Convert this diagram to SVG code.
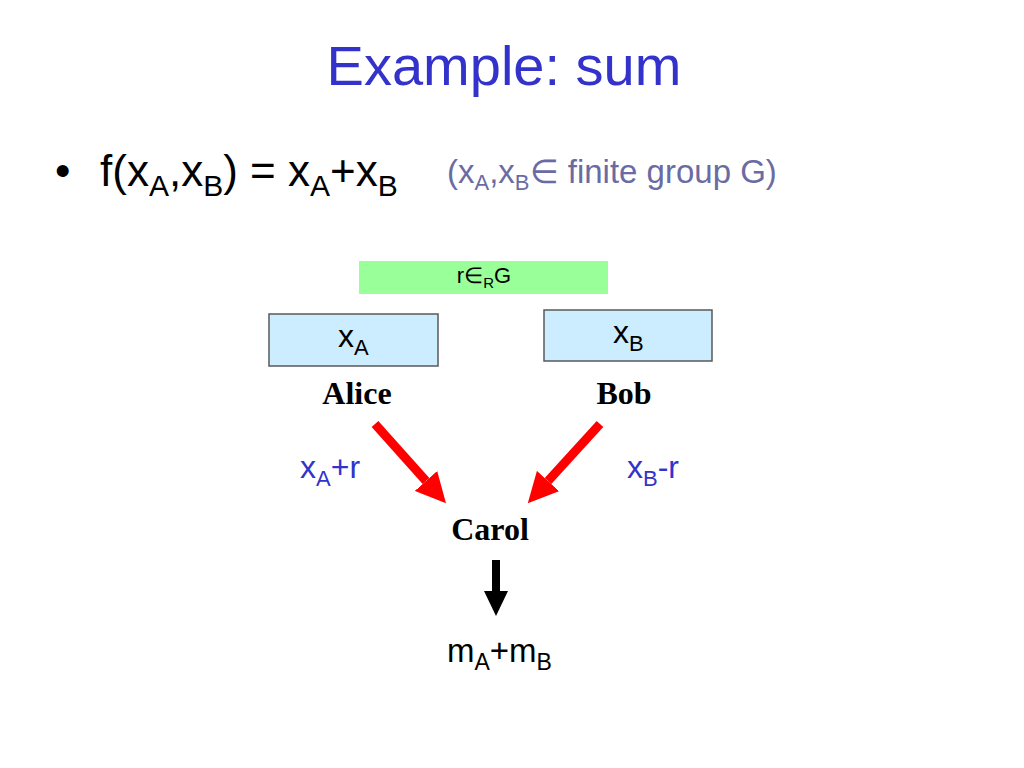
<svg xmlns="http://www.w3.org/2000/svg" width="1024" height="768" viewBox="0 0 1024 768">
<style>
.sans{font-family:"Liberation Sans",Arial,sans-serif}
.serif{font-family:"Liberation Serif","Times New Roman",serif;font-weight:bold}
.title{font-size:56px;fill:#3333CC}
.main{font-size:44px;fill:#000}
.note{font-size:33px;fill:#6B6BA3}
.lbl{font-size:32px;fill:#3333CC}
.box{fill:#CCECFF;stroke:#595959;stroke-width:1.5}
.red{stroke:#FF0000;stroke-width:9;fill:none}
.blk{stroke:#000;stroke-width:8;fill:none}
</style>
<defs>
<marker id="hr" viewBox="0 0 30 30" refX="0" refY="15" markerWidth="30" markerHeight="30" markerUnits="userSpaceOnUse" orient="auto">
<path d="M0,0 L30,15 L0,30 z" fill="#FF0000"/>
</marker>
<marker id="hb" viewBox="0 0 25 24" refX="0" refY="12" markerWidth="25" markerHeight="24" markerUnits="userSpaceOnUse" orient="auto">
<path d="M0,0 L25,12 L0,24 z" fill="#000"/>
</marker>
</defs>
<rect width="1024" height="768" fill="#fff"/>
<text class="sans title" x="504" y="85" text-anchor="middle">Example: sum</text>
<text class="sans main" x="55" y="186">•</text>
<text class="sans main" x="100" y="186">f(x<tspan font-size="30" dy="10">A</tspan><tspan dy="-10">,x</tspan><tspan font-size="30" dy="10">B</tspan><tspan dy="-10">) = x</tspan><tspan font-size="30" dy="10">A</tspan><tspan dy="-10">+x</tspan><tspan font-size="30" dy="10">B</tspan></text>
<text class="sans note" x="447" y="183">(x<tspan font-size="22" dy="7">A</tspan><tspan dy="-7">,x</tspan><tspan font-size="22" dy="7">B</tspan><tspan dy="-7">∈ finite group G)</tspan></text>
<g id="random">
<rect x="359" y="261" width="249" height="33" fill="#99FF99"/>
<text class="sans" x="484" y="283" font-size="22" text-anchor="middle">r∈<tspan font-size="15" dy="5">R</tspan><tspan dy="-5">G</tspan></text>
</g>
<g id="alice">
<rect class="box" x="269" y="314" width="169" height="52"/>
<text class="sans" x="338" y="347" font-size="32">x<tspan font-size="22" dy="8">A</tspan></text>
<text class="serif" x="357" y="404" font-size="32" text-anchor="middle">Alice</text>
</g>
<g id="bob">
<rect class="box" x="544" y="310" width="168" height="51"/>
<text class="sans" x="613" y="343" font-size="32">x<tspan font-size="22" dy="8">B</tspan></text>
<text class="serif" x="624" y="404" font-size="32" text-anchor="middle">Bob</text>
</g>
<g id="carol">
<text class="serif" x="490" y="540" font-size="32" text-anchor="middle">Carol</text>
</g>
<g id="result">
<text class="sans" x="447" y="662" font-size="33">m<tspan font-size="23" dy="8">A</tspan><tspan dy="-8">+m</tspan><tspan font-size="23" dy="8">B</tspan></text>
</g>
<g id="connectors">
<line class="red" x1="375" y1="424" x2="426" y2="481" marker-end="url(#hr)"/>
<line class="red" x1="600" y1="424" x2="548" y2="481" marker-end="url(#hr)"/>
<line class="blk" x1="496" y1="560" x2="496" y2="591" marker-end="url(#hb)"/>
<text class="sans lbl" x="300" y="478">x<tspan font-size="22" dy="8">A</tspan><tspan dy="-8">+r</tspan></text>
<text class="sans lbl" x="627" y="478">x<tspan font-size="22" dy="8">B</tspan><tspan dy="-8">-r</tspan></text>
</g>
</svg>
